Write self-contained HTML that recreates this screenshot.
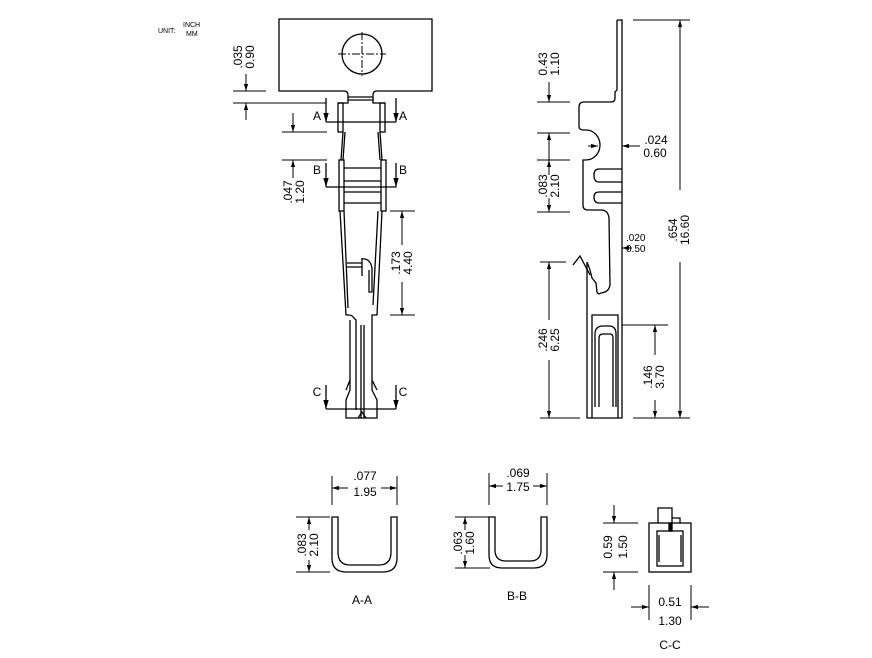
<!DOCTYPE html>
<html><head><meta charset="utf-8"><style>
html,body{margin:0;padding:0;background:#fff}
svg{display:block}
text{font-family:"Liberation Sans",sans-serif;fill:#000}
</style></head><body>
<svg width="872" height="658" viewBox="0 0 872 658" xmlns="http://www.w3.org/2000/svg">
<defs>
<marker id="ar" viewBox="0 0 10 10" refX="10" refY="5" markerWidth="7" markerHeight="7" orient="auto-start-reverse"><path d="M0,2 L10,5 L0,8 z" fill="#000"/></marker>
</defs>
<text x="158" y="33" font-size="7">UNIT:</text>
<text x="183" y="27" font-size="7">INCH</text>
<text x="186" y="36" font-size="7">MM</text>

<!-- FRONT VIEW -->
<g stroke="#000" stroke-width="1.3" fill="none">
<path d="M279,19 H432 V91 H377 Q373,91 373,95 V97 H348 V95 Q348,91 344,91 H279 Z"/>
<line x1="348" y1="97" x2="348" y2="100"/><line x1="373" y1="97" x2="373" y2="100"/>
<path d="M338,103 H348 V100 H373 V103 H385"/>
<circle cx="362" cy="54" r="20"/>
<line x1="338" y1="54" x2="386" y2="54" stroke-dasharray="8,2,2,2" stroke-width="1"/>
<line x1="362" y1="32" x2="362" y2="76" stroke-dasharray="8,2,2,2" stroke-width="1"/>
<rect x="338" y="103" width="5" height="29"/>
<rect x="380" y="103" width="5" height="29"/>
<path d="M343,132 L341,160 M380,132 L382,160 M345,132 L343,160 M378,132 L380,160"/>
<rect x="339" y="160" width="5" height="51"/>
<rect x="381" y="160" width="5" height="51"/>
<path d="M344,168 H381 M344,181 H381 M344,192 H381 M344,203 H381"/>
<path d="M340,211 L346,315 H349 Q352,315 354,318 L356,320 V410"/>
<path d="M344,211 L348,308"/>
<path d="M382,211 L377,315 H372 V390 L377,400 V418 H346 V400 L350,390 V320"/>
<path d="M378,211 L373,305"/>
<path d="M361,325 V418 M364,325 V418"/>
<path d="M358,418 L362,412 L366,418"/>
<path d="M346,390 L350,380 M377,390 L372,380"/>
<path d="M347,263 H362 M347,267 H362 M362,258 V276 M362,259 Q370,258 372,268 V292 H369 V270"/>
<path d="M326,122 H396"/>
<line x1="326" y1="98" x2="326" y2="122" marker-end="url(#ar)"/>
<line x1="396" y1="98" x2="396" y2="122" marker-end="url(#ar)"/>
<path d="M326,187 H396"/>
<line x1="326" y1="163" x2="326" y2="187" marker-end="url(#ar)"/>
<line x1="396" y1="163" x2="396" y2="187" marker-end="url(#ar)"/>
<path d="M326,409 H396"/>
<line x1="326" y1="385" x2="326" y2="409" marker-end="url(#ar)"/>
<line x1="396" y1="385" x2="396" y2="409" marker-end="url(#ar)"/>
</g>
<g stroke="#000" stroke-width="1" fill="none">
<path d="M233,91 H266 M233,103 H326"/>
<line x1="246" y1="74" x2="246" y2="91" marker-end="url(#ar)"/>
<line x1="246" y1="120" x2="246" y2="103" marker-end="url(#ar)"/>
<path d="M282,132 H327 M282,160 H327"/>
<line x1="293" y1="113" x2="293" y2="132" marker-end="url(#ar)"/>
<line x1="293" y1="178" x2="293" y2="160" marker-end="url(#ar)"/>
<path d="M390,211 H415 M390,315 H415"/>
<line x1="402" y1="245" x2="402" y2="211" marker-end="url(#ar)"/>
<line x1="402" y1="282" x2="402" y2="315" marker-end="url(#ar)"/>
</g>
<text x="317" y="120" font-size="12" text-anchor="middle">A</text>
<text x="403" y="120" font-size="12" text-anchor="middle">A</text>
<text x="317" y="174" font-size="12" text-anchor="middle">B</text>
<text x="403" y="174" font-size="12" text-anchor="middle">B</text>
<text x="317" y="396" font-size="12" text-anchor="middle">C</text>
<text x="403" y="396" font-size="12" text-anchor="middle">C</text>
<g font-size="12" text-anchor="middle">
<text transform="translate(242,57) rotate(-90)">.035</text>
<text transform="translate(254,57) rotate(-90)">0.90</text>
<text transform="translate(292,192) rotate(-90)">.047</text>
<text transform="translate(304,192) rotate(-90)">1.20</text>
<text transform="translate(400,263) rotate(-90)">.173</text>
<text transform="translate(412,263) rotate(-90)">4.40</text>
</g>

<!-- SIDE VIEW -->
<g stroke="#000" stroke-width="1.3" fill="none">
<path d="M617,20 H622 V418 H587 V262"/>
<path d="M617,20 V90 L615,92 V98 Q615,102 611,102 H584 Q579,102 579,107 V126 Q579,130 583,130 H586 A14,15 0 0 1 586,160 H583 V205 Q583,210 588,210 H601 Q608,210 609,218 L610,285 Q609,292 601,293 Q598,295 597,292 L596,283 L592,278 L590,270"/>
<path d="M587,262 L590,270"/>
<path d="M573,265 L580,256 L590,275"/>
<path d="M622,169 H599 Q594,169 594,175 Q594,182 599,182 H622"/>
<path d="M622,192 H599 Q594,192 594,197 Q594,203 599,203 H622"/>
<path d="M592,418 V315 H618 V418"/>
<path d="M595,407 V334 Q595,326 603,326 H609 Q616,326 616,334 V407"/>
<path d="M599,407 V338 Q599,334 603,334 H610 Q613,334 613,338 V407"/>
</g>
<g stroke="#000" stroke-width="1" fill="none">
<path d="M537,102 H570 M537,133 H570 M537,160 H570 M537,212 H570"/>
<line x1="549" y1="82" x2="549" y2="102" marker-end="url(#ar)"/>
<line x1="549" y1="133" x2="549" y2="160"/>
<line x1="549" y1="145" x2="549" y2="133" marker-end="url(#ar)"/>
<line x1="549" y1="175" x2="549" y2="160" marker-end="url(#ar)"/>
<line x1="549" y1="198" x2="549" y2="212" marker-end="url(#ar)"/>
<line x1="588" y1="146" x2="598" y2="146" marker-end="url(#ar)"/>
<line x1="640" y1="146" x2="622" y2="146" marker-end="url(#ar)"/>
<line x1="632" y1="248" x2="622" y2="248" marker-end="url(#ar)"/>
<path d="M633,20 H690 M633,418 H690"/>
<line x1="680" y1="190" x2="680" y2="20" marker-end="url(#ar)"/>
<line x1="680" y1="262" x2="680" y2="418" marker-end="url(#ar)"/>
<path d="M540,262 H566 M540,418 H580"/>
<line x1="549" y1="320" x2="549" y2="262" marker-end="url(#ar)"/>
<line x1="549" y1="360" x2="549" y2="418" marker-end="url(#ar)"/>
<path d="M622,325 H668"/>
<line x1="655" y1="355" x2="655" y2="325" marker-end="url(#ar)"/>
<line x1="655" y1="400" x2="655" y2="418" marker-end="url(#ar)"/>
</g>
<g font-size="12" text-anchor="middle">
<text transform="translate(547,64) rotate(-90)">0.43</text>
<text transform="translate(559,64) rotate(-90)">1.10</text>
<text transform="translate(547,186) rotate(-90)">.083</text>
<text transform="translate(559,186) rotate(-90)">2.10</text>
<text transform="translate(677,230) rotate(-90)">.654</text>
<text transform="translate(689,230) rotate(-90)">16.60</text>
<text transform="translate(547,340) rotate(-90)">.246</text>
<text transform="translate(559,340) rotate(-90)">6.25</text>
<text transform="translate(652,377) rotate(-90)">.146</text>
<text transform="translate(664,377) rotate(-90)">3.70</text>
<text x="656" y="144">.024</text>
<text x="655" y="157">0.60</text>
</g>
<text x="626" y="241" font-size="10">.020</text>
<text x="626" y="252" font-size="10">0.50</text>

<!-- A-A / B-B / C-C -->
<g stroke="#000" stroke-width="1.3" fill="none">
<path d="M332,517 V558 Q332,572 346,572 H383 Q397,572 397,558 V517 H391 V552 Q391,565 379,565 H350 Q338,565 338,552 V517 Z"/>
<path d="M489,517 V555 Q489,568 502,568 H534 Q547,568 547,555 V517 H541 V550 Q541,561 530,561 H506 Q495,561 495,550 V517 Z"/>
<rect x="649" y="523" width="42" height="49"/>
<rect x="657" y="531" width="26" height="35"/>
<path d="M659,535 V562 M681,535 V562"/>
<path d="M658,523 V508 H672 V523 M672,518 H680 V523"/>
<rect x="669" y="523" width="3" height="8" fill="#000"/>
</g>
<g stroke="#000" stroke-width="1" fill="none">
<path d="M332,476 V505 M397,476 V505"/>
<line x1="348" y1="488" x2="332" y2="488" marker-end="url(#ar)"/>
<line x1="381" y1="488" x2="397" y2="488" marker-end="url(#ar)"/>
<path d="M296,517 H330 M296,572 H330"/>
<line x1="309" y1="530" x2="309" y2="517" marker-end="url(#ar)"/>
<line x1="309" y1="560" x2="309" y2="572" marker-end="url(#ar)"/>
<path d="M489,473 V505 M547,473 V505"/>
<line x1="503" y1="486" x2="489" y2="486" marker-end="url(#ar)"/>
<line x1="533" y1="486" x2="547" y2="486" marker-end="url(#ar)"/>
<path d="M455,517 H490 M455,568 H490"/>
<line x1="465" y1="530" x2="465" y2="517" marker-end="url(#ar)"/>
<line x1="465" y1="555" x2="465" y2="568" marker-end="url(#ar)"/>
<path d="M603,523 H638 M603,572 H638"/>
<line x1="614" y1="505" x2="614" y2="523" marker-end="url(#ar)"/>
<line x1="614" y1="590" x2="614" y2="572" marker-end="url(#ar)"/>
<path d="M649,585 V620 M691,585 V620"/>
<line x1="631" y1="607" x2="649" y2="607" marker-end="url(#ar)"/>
<line x1="709" y1="607" x2="691" y2="607" marker-end="url(#ar)"/>
</g>
<g font-size="12" text-anchor="middle">
<text x="365" y="480">.077</text>
<text x="365" y="496">1.95</text>
<text transform="translate(306,545) rotate(-90)">.083</text>
<text transform="translate(318,545) rotate(-90)">2.10</text>
<text x="362" y="604">A-A</text>
<text x="518" y="477">.069</text>
<text x="518" y="491">1.75</text>
<text transform="translate(462,543) rotate(-90)">.063</text>
<text transform="translate(474,543) rotate(-90)">1.60</text>
<text x="517" y="600">B-B</text>
<text transform="translate(612,547) rotate(-90)">0.59</text>
<text transform="translate(627,547) rotate(-90)">1.50</text>
<text x="670" y="606">0.51</text>
<text x="670" y="625">1.30</text>
<text x="670" y="649">C-C</text>
</g>
</svg>
</body></html>
